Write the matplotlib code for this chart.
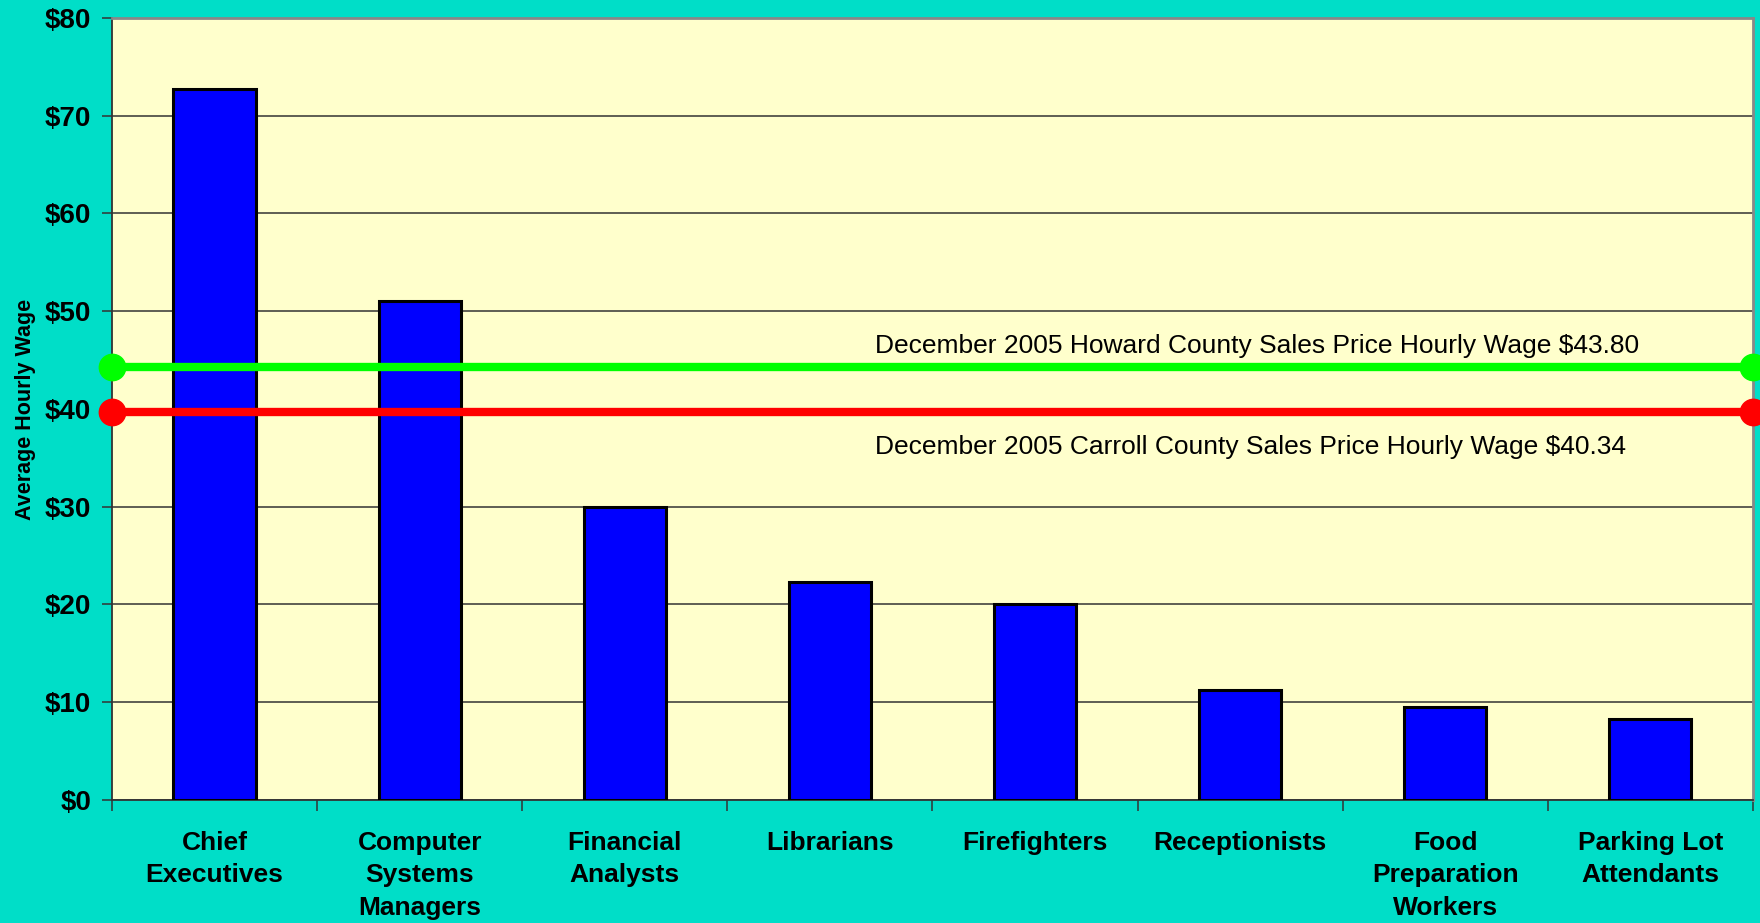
import matplotlib.pyplot as plt
import numpy as np

# Data
occupations = ['Chief\nExecutives', 'Computer\nSystems\nManagers', 'Financial\nAnalysts',
               'Librarians', 'Firefighters', 'Receptionists', 'Food\nPreparation\nWorkers',
               'Parking Lot\nAttendants']
hourly_wage = [72.7, 51.0, 30.0, 22.3, 20.0, 11.3, 9.5, 8.3]

# reference lines (drawn position and the stated value)
howard_line = 44.3
carroll_line = 39.7
howard_label = 'December 2005 Howard County Sales Price Hourly Wage $43.80'
carroll_label = 'December 2005 Carroll County Sales Price Hourly Wage $40.34'

yticks = [0, 10, 20, 30, 40, 50, 60, 70, 80]

plt.rcParams['font.family'] = ['Liberation Sans', 'DejaVu Sans']

bg = '#00DEC8'
fig = plt.figure(figsize=(17.6, 9.23), dpi=100, facecolor=bg)
ax = fig.add_axes([0.0636, 0.1333, 0.9324, 0.8472])
ax.set_facecolor('#FFFFCC')

x = np.arange(len(occupations))
ax.bar(x, hourly_wage, width=0.40, color='#0000FF', edgecolor='black', linewidth=2.2, zorder=3)

ax.set_xlim(-0.5, len(occupations) - 0.5)
ax.set_ylim(0, 80)

# horizontal reference lines with dot ends
ax.plot([-0.5, len(occupations) - 0.5], [howard_line, howard_line], color='#00FF00',
        linewidth=6, marker='o', markersize=19, zorder=4, clip_on=False)
ax.plot([-0.5, len(occupations) - 0.5], [carroll_line, carroll_line], color='#FF0000',
        linewidth=6, marker='o', markersize=19, zorder=4, clip_on=False)
ax.text(3.22, 46.4, howard_label, fontsize=19, va='center', ha='left', zorder=5)
ax.text(3.22, 36.15, carroll_label, fontsize=19, va='center', ha='left', zorder=5)

# grid
ax.set_yticks(yticks)
ax.set_yticklabels([f'${v}' for v in yticks], fontsize=20, fontweight='bold')
ax.yaxis.grid(True, color='#333333', linewidth=1.1, zorder=1)
ax.tick_params(axis='y', length=7, width=1.1, color='#333333', pad=8)

ax.set_xticks(x)
ax.set_xticklabels(occupations, fontsize=19, fontweight='bold', linespacing=1.45)
ax.set_xticks(np.arange(-0.5, len(occupations)), minor=True)
ax.tick_params(axis='x', which='major', length=0, pad=22)
ax.tick_params(axis='x', which='minor', length=8, width=1.1, color='#333333')

ax.set_ylabel('Average Hourly Wage', fontsize=15.5, fontweight='bold', labelpad=6.5)

for side in ['left', 'bottom']:
    ax.spines[side].set_color('#333333')
    ax.spines[side].set_linewidth(1.3)
for side in ['top', 'right']:
    ax.spines[side].set_color('#888888')
    ax.spines[side].set_linewidth(2)

fig.savefig('out.png', dpi=100, facecolor=bg)
